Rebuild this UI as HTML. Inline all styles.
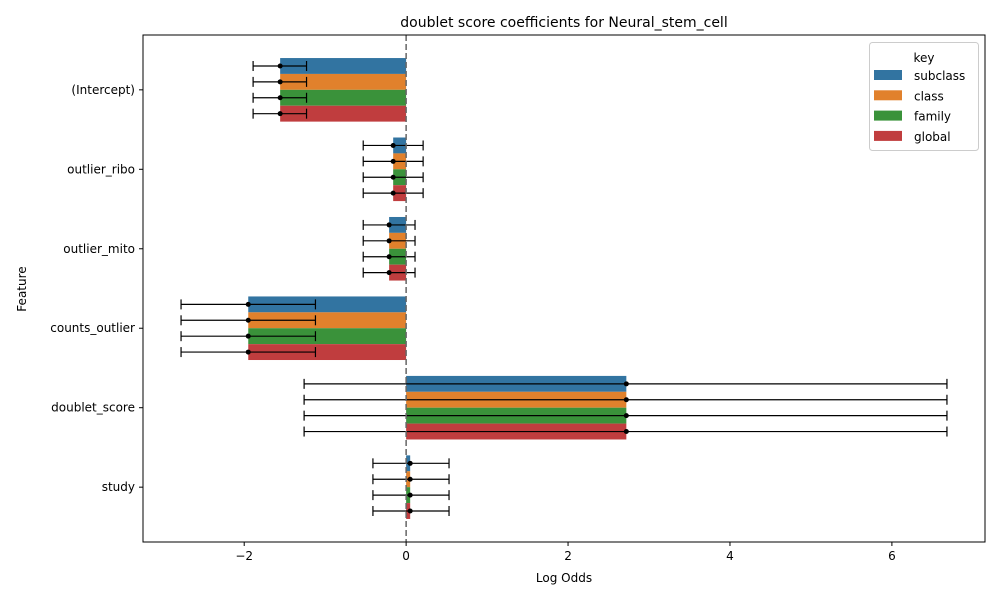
<!DOCTYPE html><html><head><meta charset="utf-8"><style>body{margin:0;background:#fff;overflow:hidden}svg{display:block}svg text{font-family:"DejaVu Sans","Liberation Sans",sans-serif}</style></head><body>
<svg id="c" width="1000" height="600" style="position:absolute;left:0;top:0">
<text x="564" y="27" text-anchor="middle" font-size="14">doublet score coefficients for Neural_stem_cell</text>
<text x="564" y="582" text-anchor="middle" font-size="12">Log Odds</text>
<text x="26" y="289" text-anchor="middle" font-size="12" transform="rotate(-90 26 289)">Feature</text>
</svg>
<script>
const features=["(Intercept)","outlier_ribo","outlier_mito","counts_outlier","doublet_score","study"];
const seriesNames=["subclass","class","family","global"];
const coef=[-1.556,-0.16,-0.21,-1.95,2.72,0.05];
const errLow=[-1.89,-0.53,-0.53,-2.78,-1.26,-0.41];
const errHigh=[-1.23,0.21,0.11,-1.12,6.68,0.53];
const xTicks=[-2,0,2,4,6];
const colors=["#3274a1","#e1812c","#3a923a","#c03d3e"];
const NS="http://www.w3.org/2000/svg",svg=document.getElementById("c");
const L=143,R=985,T=35,B=542,xmin=-3.25,xmax=7.15;
const X=v=>L+(v-xmin)/(xmax-xmin)*(R-L);
const ylo=-0.69,yhi=features.length-1+0.69;
const Y=i=>T+(i-ylo)/(yhi-ylo)*(B-T);
const step=Y(1)-Y(0);
function el(t,a,p){const e=document.createElementNS(NS,t);for(const k in a)e.setAttribute(k,a[k]);(p||svg).appendChild(e);return e;}
const bw=step*0.8/4;
features.forEach((f,i)=>{
 seriesNames.forEach((s,j)=>{
  const y0=Y(i)-step*0.4+j*bw,x0=X(Math.min(0,coef[i])),x1=X(Math.max(0,coef[i]));
  const r=el("rect",{x:x0,y:y0,width:x1-x0,height:bw,fill:colors[j]});
  
  
 });
 seriesNames.forEach((s,j)=>{
  const yc=Y(i)-step*0.4+j*bw+bw/2,g=el("g",{stroke:"#000","stroke-width":1.2});
  
  
  el("line",{x1:X(errLow[i]),x2:X(errHigh[i]),y1:yc,y2:yc},g);
  el("line",{x1:X(errLow[i]),x2:X(errLow[i]),y1:yc-5,y2:yc+5},g);
  el("line",{x1:X(errHigh[i]),x2:X(errHigh[i]),y1:yc-5,y2:yc+5},g);
  const d=el("circle",{cx:X(coef[i]),cy:yc,r:2.5,fill:"#000"});
  
  
 });
 el("line",{x1:L-4,x2:L,y1:Y(i),y2:Y(i),stroke:"#000"});
 const t=el("text",{x:L-8,y:Y(i)+4,"text-anchor":"end","font-size":12});t.textContent=f;
 
 
});
el("line",{x1:X(0),x2:X(0),y1:T,y2:B,stroke:"#666","stroke-width":1.5,"stroke-dasharray":"6,3"});
xTicks.forEach(v=>{el("line",{x1:X(v),x2:X(v),y1:B,y2:B+4,stroke:"#000"});
 const t=el("text",{x:X(v),y:B+18,"text-anchor":"middle","font-size":12});t.textContent=v<0?"−"+(-v):v;
 
 });
el("rect",{x:L,y:T,width:R-L,height:B-T,fill:"none",stroke:"#000"});
const lg=el("g",{});


el("rect",{x:869.5,y:42.5,width:109,height:108,rx:3,fill:"#fff","fill-opacity":0.8,stroke:"#ccc"},lg);
const kt=el("text",{x:924,y:62,"text-anchor":"middle","font-size":12},lg);kt.textContent="key";
seriesNames.forEach((s,j)=>{
 el("rect",{x:874,y:70+j*20.3,width:28,height:10,fill:colors[j]},lg);
 const t=el("text",{x:914,y:80+j*20.3,"font-size":12},lg);t.textContent=s;
});
</script>
</body></html>
